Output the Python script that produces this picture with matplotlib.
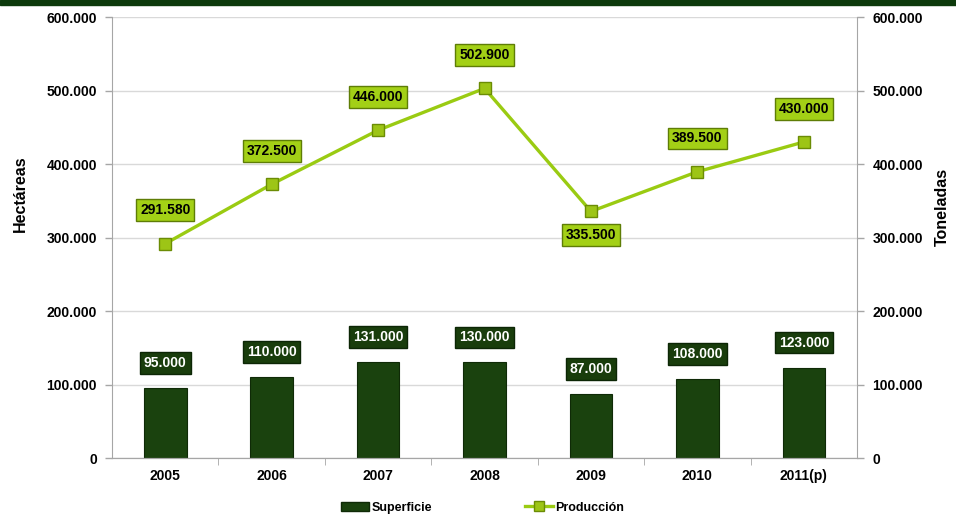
import numpy as np
import matplotlib
matplotlib.use("Agg")
import matplotlib.pyplot as plt
from matplotlib.patches import Rectangle, Patch
from matplotlib.lines import Line2D
from matplotlib.ticker import FuncFormatter

# ------------------------------------------
# Data
# ------------------------------------------
years = ["2005", "2006", "2007", "2008", "2009", "2010", "2011(p)"]
superficie = [95000, 110000, 131000, 130000, 87000, 108000, 123000]
produccion = [291580, 372500, 446000, 502900, 335500, 389500, 430000]

BAR_GREEN = "#1a420e"
BAR_EDGE = "#0f2a07"
LINE_GREEN = "#9acb12"
BOX_GREEN = "#a3d016"
GRID = "#d9d9d9"
AXIS = "#a6a6a6"

plt.rcParams["font.family"] = ["Liberation Sans", "DejaVu Sans"]
plt.rcParams["font.weight"] = "bold"


def miles(v, pos=None):
    return f"{int(v):,}".replace(",", ".")


fig = plt.figure(figsize=(9.56, 5.17), dpi=100)
ax = fig.add_axes([0.1172, 0.1141, 0.7793, 0.853])
ax2 = ax.twinx()

x = np.arange(len(years))

# bars (left axis)
ax.bar(x, superficie, width=0.40, color=BAR_GREEN, edgecolor=BAR_EDGE, linewidth=0.8, zorder=2)
for xi, v in zip(x, superficie):
    ax.annotate(miles(v), (xi, v), xytext=(0, 18), textcoords="offset points",
                ha="center", va="center", color="white", fontsize=10, fontweight="bold",
                bbox=dict(boxstyle="square,pad=0.28", fc="#193d0c", ec="#0c2605", lw=1.0), zorder=5)

# line (right axis)
ax2.plot(x, produccion, color=LINE_GREEN, lw=2.4, marker="s", markersize=8,
         markerfacecolor="#9dc516", markeredgecolor="#6b8c05", markeredgewidth=1.0, zorder=4)
for xi, v in zip(x, produccion):
    below = v == 335500
    dy = -17 if below else 24
    ax2.annotate(miles(v), (xi, v), xytext=(0, dy), textcoords="offset points",
                 ha="center", va="center", color="black", fontsize=10, fontweight="bold",
                 bbox=dict(boxstyle="square,pad=0.28", fc=BOX_GREEN, ec="#5e7d06", lw=1.0), zorder=6)

for a in (ax, ax2):
    a.set_ylim(0, 600000)
    a.set_yticks(np.arange(0, 600001, 100000))
    a.yaxis.set_major_formatter(FuncFormatter(miles))
    a.tick_params(axis="y", length=5, width=1, color=AXIS, labelsize=10, pad=6)
    a.spines["top"].set_visible(False)
    for s in ("left", "right", "bottom"):
        a.spines[s].set_color(AXIS)

ax.set_xlim(-0.5, len(years) - 0.5)
ax.set_xticks(x)
ax.set_xticklabels(years, fontsize=10, fontweight="bold")
ax.tick_params(axis="x", length=0, pad=8)
ax.set_xticks(np.arange(0.5, len(years) - 0.5, 1.0), minor=True)
ax.tick_params(axis="x", which="minor", length=5, color=AXIS, direction="out")

ax.grid(axis="y", color=GRID, lw=1, zorder=0)
ax.set_axisbelow(True)
ax.spines["right"].set_visible(False)
ax2.spines["left"].set_visible(False)

ax.set_ylabel("Hectáreas", fontsize=11.5, fontweight="bold", labelpad=14)
ax.yaxis.set_label_coords(-0.113, 0.60)
ax2.set_ylabel("Toneladas", fontsize=11.5, fontweight="bold", labelpad=12)
ax2.yaxis.set_label_coords(1.104, 0.57)

# legend
handles = [
    Patch(facecolor=BAR_GREEN, edgecolor=BAR_EDGE),
    Line2D([0], [0], color=LINE_GREEN, lw=2.4, marker="s", markersize=7,
           markerfacecolor="#9dc516", markeredgecolor="#6b8c05"),
]
fig.legend(handles, ["Superficie", "Producción"], loc="center", bbox_to_anchor=(0.505, 0.018),
           ncol=2, frameon=False, fontsize=9, columnspacing=7.5, handlelength=2.2,
           handletextpad=0.2)

# dark green band on top
fig.patches.append(Rectangle((0, 1 - 5 / 517), 1, 5 / 517, transform=fig.transFigure,
                             color="#0d3a0c", zorder=10))

fig.savefig("out.png", dpi=100)
